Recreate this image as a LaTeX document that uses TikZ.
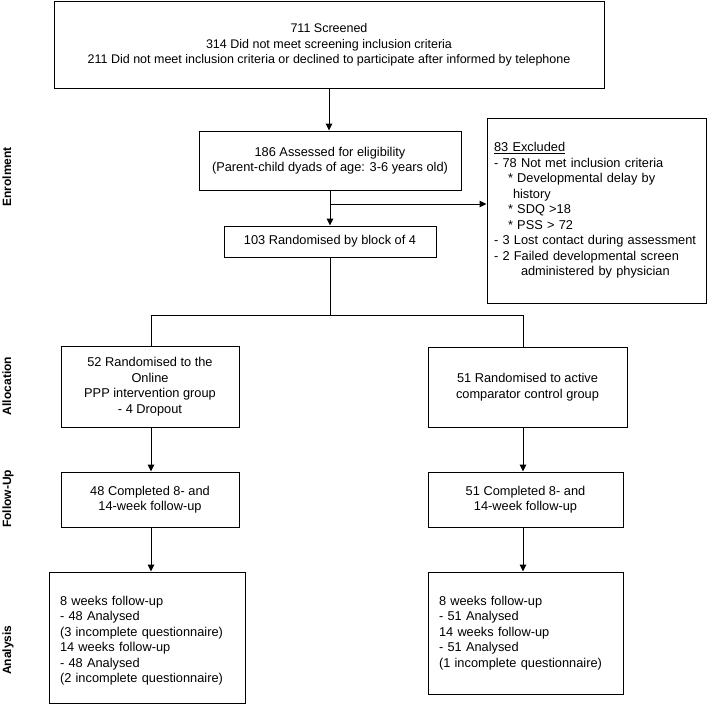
\documentclass[tikz,border=0pt]{standalone}
\usepackage{fontspec}
\setmainfont{Liberation Sans}
\usetikzlibrary{arrows.meta}
\begin{document}
\begin{tikzpicture}[x=1pt,y=-1pt,
  box/.style={draw, line width=1pt, rectangle, inner sep=0pt, font=\fontsize{12.8}{15.5}\selectfont, align=center},
  lbox/.style={draw, line width=1pt, rectangle, inner ysep=0pt, font=\fontsize{12.8}{15.5}\selectfont, align=left},
  arr/.style={line width=1pt, -{Triangle[length=7pt,width=6.5pt]}},
  ln/.style={line width=1pt},
  lab/.style={rotate=90, anchor=base, inner sep=0pt, font=\fontsize{12}{14}\selectfont\bfseries}]
\useasboundingbox (0,0) rectangle (707,709);

\node[box, font=\fontsize{12.5}{15.5}\selectfont, minimum width=550pt, minimum height=86pt] (top) at (329,45)
  {711 Screened\\314 Did not meet screening inclusion criteria\\211 Did not meet inclusion criteria or declined to participate after informed by telephone};
\node[box, minimum width=262pt, minimum height=59pt] (assess) at (330,160.5)
  {186 Assessed for eligibility\\(Parent-child dyads of age: 3-6 years old)};
\node[box, minimum width=212pt, minimum height=31pt] (rand) at (330,241.5)
  {103 Randomised by block of 4};
\node[lbox, inner xsep=7pt, text width=205pt, minimum height=185pt] (excl) at (596.5,210.5)
  {\underline{83 Excluded}\\
   - 78 Not met inclusion criteria\\
   \hspace*{14pt}* Developmental delay by\\
   \hspace*{19pt}history\\
   \hspace*{14pt}* SDQ >18\\
   \hspace*{14pt}* PSS > 72\\
   - 3 Lost contact during assessment\\
   - 2 Failed developmental screen\\
   \hspace*{27pt}administered by physician};
\node[box, minimum width=178pt, minimum height=81pt] (allocL) at (150,386.5)
  {52 Randomised to the\\Online\\PPP intervention group\\- 4 Dropout};
\node[box, minimum width=199pt, minimum height=80pt] (allocR) at (527.5,387)
  {51 Randomised to active\\comparator control group};
\node[box, minimum width=178pt, minimum height=55pt] (fuL) at (150,499.5)
  {48 Completed 8- and\\14-week follow-up};
\node[box, minimum width=195pt, minimum height=55pt] (fuR) at (525.5,499.5)
  {51 Completed 8- and\\14-week follow-up};
\node[lbox, inner xsep=11pt, text width=174pt, minimum height=131pt] (anL) at (147,637.5)
  {\rule{0pt}{16pt}8 weeks follow-up\\- 48 Analysed\\(3 incomplete questionnaire)\\14 weeks follow-up\\- 48 Analysed\\(2 incomplete questionnaire)};
\node[lbox, inner xsep=11pt, text width=173pt, minimum height=122pt] (anR) at (525.5,633)
  {8 weeks follow-up\\- 51 Analysed\\14 weeks follow-up\\- 51 Analysed\\(1 incomplete questionnaire)};

\node[lab] (lenr) at (11,177) {Enrolment};
\node[lab] (lall) at (11,386) {Allocation};
\node[lab] (lfu) at (11,499) {Follow-Up};
\node[lab] (lan) at (11,650) {Analysis};

\coordinate (br) at (330,204);
\coordinate (split) at (330,315);
\coordinate (sl) at (151,315);
\coordinate (sr) at (523,315);

\draw[arr] (top.south) -- (top.south |- assess.north);
\draw[arr] (assess.south) -- (rand.north);
\draw[arr] (br) -- (br -| excl.west);
\draw[ln] (rand.south) -- (split);
\draw[ln] (sl) -- (sr);
\draw[ln] (sl) -- (sl |- allocL.north);
\draw[ln] (sr) -- (sr |- allocR.north);
\draw[arr] (allocL.south -| sl) -- (fuL.north -| sl);
\draw[arr] (allocR.south -| sr) -- (fuR.north -| sr);
\draw[arr] (fuL.south -| sl) -- (anL.north -| sl);
\draw[arr] (fuR.south -| sr) -- (anR.north -| sr);
\end{tikzpicture}
\end{document}
